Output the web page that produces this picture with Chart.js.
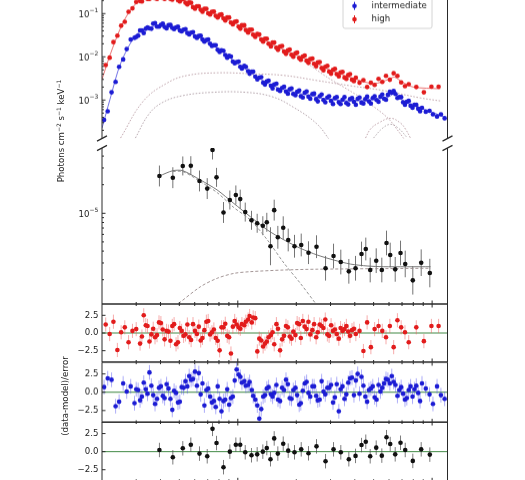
<!DOCTYPE html>
<html>
<head>
<meta charset="utf-8">
<script src="https://cdn.jsdelivr.net/npm/chart.js@4.4.1/dist/chart.umd.min.js"></script>
<style>
  html, body { margin: 0; padding: 0; background: #fff; }
  body { width: 525px; height: 480px; position: relative; overflow: hidden; font-family: "DejaVu Sans", sans-serif; }
  .panel { position: absolute; left: 0; width: 525px; }
  .ylab { position: absolute; white-space: nowrap; font-size: 8.6px; color: #222;
          transform: translate(-50%, -50%) rotate(-90deg); }
  .ylab sup { font-size: 6px; vertical-align: 3px; line-height: 0; }
</style>
</head>
<body>
<div class="panel" style="top:-32px;height:179.5px"><canvas id="p1"></canvas></div>
<div class="panel" style="top:138px;height:176px"><canvas id="p2"></canvas></div>
<div class="panel" style="top:294.3px;height:78px"><canvas id="p3"></canvas></div>
<div class="panel" style="top:352.3px;height:79.4px"><canvas id="p4"></canvas></div>
<div class="panel" style="top:411.7px;height:79.3px"><canvas id="p5"></canvas></div>
<div class="ylab" style="left:61px;top:131px">Photons cm<sup>−2</sup> s<sup>−1</sup> keV<sup>−1</sup></div>
<div class="ylab" style="left:65px;top:396px">(data-model)/error</div>
<script>
// energies in keV, fluxes in photons cm^-2 s^-1 keV^-1
const blueE = [0.205,0.214,0.224,0.235,0.245,0.257,0.268,0.281,0.294,0.307,
  0.321,0.336,0.351,0.367,0.384,0.402,0.420,0.440,0.460,0.481,
  0.503,0.526,0.550,0.575,0.602,0.630,0.658,0.689,0.720,0.753,
  0.788,0.824,0.862,0.902,0.943,0.986,1.03,1.08,1.13,1.18,
  1.23,1.29,1.35,1.41,1.48,1.54,1.61,1.69,1.77,1.85,
  1.93,2.02,2.11,2.21,2.31,2.42,2.53,2.64,2.76,2.89,
  3.02,3.16,3.31,3.46,3.62,3.78,3.96,4.14,4.33,4.53,
  4.73,4.95,5.18,5.42,5.66,5.92,6.20,6.48,6.78,7.09,
  7.41,7.75,8.11,8.48,8.87,9.28,9.70,10.1,10.6,11.1,11.6];
const blueF = [3.47e-4,5.50e-4,1.51e-3,2.63e-3,5.89e-3,8.71e-3,1.51e-2,2.51e-2,2.75e-2,3.09e-2,
  4.07e-2,4.47e-2,4.57e-2,5.89e-2,5.01e-2,5.50e-2,4.90e-2,5.37e-2,4.68e-2,4.79e-2,
  4.07e-2,4.27e-2,3.55e-2,3.63e-2,2.95e-2,3.02e-2,2.51e-2,2.45e-2,2.00e-2,1.86e-2,
  1.45e-2,1.41e-2,1.10e-2,1.05e-2,7.76e-3,7.59e-3,5.89e-3,6.17e-3,4.68e-3,4.57e-3,
  3.47e-3,3.31e-3,2.51e-3,2.69e-3,2.14e-3,2.29e-3,1.74e-3,1.91e-3,1.58e-3,1.78e-3,
  1.38e-3,1.55e-3,1.23e-3,1.48e-3,1.20e-3,1.38e-3,1.05e-3,1.23e-3,1.00e-3,1.15e-3,
  9.55e-4,1.12e-3,8.91e-4,1.02e-3,8.51e-4,1.05e-3,9.12e-4,1.07e-3,8.71e-4,1.05e-3,
  9.33e-4,1.12e-3,1.00e-3,1.20e-3,1.07e-3,1.32e-3,1.48e-3,1.38e-3,1.17e-3,8.91e-4,
  9.12e-4,7.41e-4,7.76e-4,6.31e-4,6.61e-4,5.37e-4,5.62e-4,4.68e-4,4.17e-4,4.68e-4,3.80e-4];
const blueRes = [0.7,1.9,1.7,-1.9,-1.3,1.2,0.1,0.8,-1.5,0.3,
  -0.6,0.4,2.7,-0.4,-0.9,0.8,-0.8,0.5,-2.4,-0.1,
  -1.3,0.6,0.8,1.7,2.8,2.6,1.2,0.3,-0.6,-1.2,
  0.8,-2.6,-1.0,-1.7,-0.6,3.1,2.1,1.5,1.0,0.3,
  -1.0,-3.6,-0.6,0.5,-0.3,-0.1,-1.0,0.6,1.7,-0.8,
  0.3,-0.4,-1.5,1.2,-0.1,0.8,-0.5,-1.0,0.1,0.6,
  1.0,-0.7,-2.6,0.8,-0.3,1.9,-0.4,2.5,2.1,-0.6,
  0.3,0.8,-1.0,0.1,1.2,1.7,2.2,1.0,0.3,-0.2,
  -0.8,0.8,0.4,-0.1,1.2,0.5,-0.3,-1.6,0.8,-0.4,-0.9];
// interleaved bins of the intermediate spectrum
const blueE2 = [0.300,0.314,0.328,0.343,0.359,0.375,0.393,0.411,0.430,0.450,
  0.470,0.492,0.514,0.538,0.562,0.588,0.616,0.644,0.673,0.704,
  0.736,0.770,0.806,0.843,0.882,0.922,0.964,1.01,1.05,1.10,
  1.15,1.20,1.26,1.32,1.38,1.44,1.51,1.58,1.65,1.73,
  1.81,1.89,1.98,2.07,2.16,2.26,2.36,2.47,2.58,2.70,
  2.82,2.95,3.09,3.23,3.38,3.54,3.70,3.87,4.05,4.23,
  4.43,4.63,4.84,5.06,5.30,5.54,5.79,6.06,6.34,6.63,
  6.93,7.25,7.58,7.93,8.29,8.67];
const blueF2 = [2.88e-2,4.07e-2,3.55e-2,4.79e-2,4.47e-2,6.03e-2,5.01e-2,5.89e-2,4.57e-2,5.50e-2,
  4.37e-2,5.01e-2,3.89e-2,4.37e-2,3.31e-2,3.72e-2,2.75e-2,3.09e-2,2.24e-2,2.51e-2,
  1.78e-2,1.86e-2,1.29e-2,1.38e-2,9.55e-3,1.02e-2,7.08e-3,7.76e-3,5.37e-3,5.89e-3,
  4.07e-3,4.57e-3,3.02e-3,3.39e-3,2.29e-3,2.82e-3,1.86e-3,2.40e-3,1.62e-3,2.04e-3,
  1.41e-3,1.86e-3,1.29e-3,1.66e-3,1.15e-3,1.58e-3,1.07e-3,1.41e-3,9.33e-4,1.35e-3,
  8.91e-4,1.23e-3,8.13e-4,1.17e-3,8.13e-4,1.17e-3,7.94e-4,1.12e-3,7.76e-4,1.15e-3,
  8.32e-4,1.20e-3,8.32e-4,1.23e-3,9.12e-4,1.35e-3,1.02e-3,1.55e-3,1.62e-3,1.12e-3,
  1.17e-3,7.76e-4,9.55e-4,6.61e-4,7.76e-4,5.50e-4];
const blueRes2 = [0.4,-1.1,1.3,-0.2,0.9,-1.6,0.6,-0.5,1.1,-0.9,
  0.2,-1.4,0.7,1.5,2.2,1.8,0.9,-0.3,-1.8,0.5,
  -1.4,-2.0,-0.9,-1.2,0.4,-0.8,1.6,2.4,1.3,0.9,
  1.4,-0.5,-1.8,-2.3,-0.4,0.7,-0.6,1.0,-1.2,0.3,
  1.1,-0.9,0.6,-1.7,0.2,1.4,-0.6,0.8,-1.1,1.5,
  -0.3,0.6,-1.4,1.1,0.4,-0.9,1.3,2.0,1.6,-0.2,
  0.9,-1.3,0.5,-0.7,1.0,0.6,1.8,1.2,1.4,-0.5,
  0.7,-1.0,0.3,-0.6,0.9,-1.2];

const redE = [0.209,0.219,0.229,0.240,0.251,0.262,0.274,0.287,0.300,0.314,
  0.328,0.343,0.359,0.375,0.393,0.411,0.430,0.450,0.470,0.492,
  0.514,0.538,0.562,0.588,0.616,0.644,0.673,0.704,0.736,0.770,
  0.806,0.843,0.882,0.922,0.964,1.01,1.05,1.10,1.15,1.20,
  1.26,1.32,1.38,1.44,1.51,1.58,1.65,1.73,1.81,1.89,
  1.98,2.07,2.16,2.26,2.36,2.47,2.58,2.70,2.82,2.95,
  3.09,3.23,3.38,3.54,3.70,3.87,4.05,4.23,4.43,4.63,
  4.84,5.06,5.30,5.54,5.79,6.06,6.34,6.63,6.93,7.25,
  7.58,8.29,9.07,9.92,10.8];
const redF = [6.46e-3,9.55e-3,2.19e-2,3.09e-2,5.25e-2,6.46e-2,1.10e-1,1.32e-1,1.86e-1,1.95e-1,
  2.34e-1,2.19e-1,2.57e-1,2.29e-1,2.57e-1,2.34e-1,2.57e-1,2.19e-1,2.40e-1,2.04e-1,
  2.14e-1,1.78e-1,1.82e-1,1.41e-1,1.48e-1,1.23e-1,1.29e-1,1.02e-1,1.10e-1,8.91e-2,
  9.33e-2,7.76e-2,8.13e-2,6.17e-2,6.46e-2,5.01e-2,5.37e-2,4.17e-2,4.27e-2,3.24e-2,
  3.39e-2,2.51e-2,2.63e-2,2.00e-2,2.14e-2,1.62e-2,1.74e-2,1.32e-2,1.41e-2,1.12e-2,
  1.20e-2,9.33e-3,1.02e-2,8.13e-3,8.91e-3,6.92e-3,7.41e-3,5.50e-3,5.89e-3,4.57e-3,
  5.01e-3,3.98e-3,4.37e-3,3.31e-3,3.80e-3,2.95e-3,3.31e-3,2.51e-3,2.88e-3,2.00e-3,
  2.51e-3,2.24e-3,3.09e-3,2.63e-3,3.63e-3,2.95e-3,4.17e-3,3.63e-3,2.57e-3,2.09e-3,
  2.34e-3,2.00e-3,1.51e-3,2.04e-3,2.04e-3];
const redRes = [1.2,-0.15,1.6,-2.4,0.1,0.8,-1.3,0.3,0.55,-1.5,
  2.5,1.0,-0.2,-0.6,1.5,0.5,0.3,-1.1,1.25,-1.3,
  0.3,-0.2,-0.6,1.25,-0.15,-1.05,0.4,1.7,0.1,-0.7,
  -2.45,0.8,-0.4,-2.9,1.7,0.8,1.25,1.6,2.4,2.2,
  -2.6,-1.05,-1.5,-0.6,0.1,1.25,-2.45,-0.4,0.8,-0.8,
  -0.3,1.25,1.7,0.55,-0.2,1.25,0.1,1.0,1.9,-0.4,
  0.3,-0.15,0.7,0.55,0.2,0.4,-0.15,0.3,-2.55,1.5,
  -2.0,0.55,1.0,0.3,-0.6,1.0,-2.0,1.8,0.8,0.1,
  -1.3,0.8,-1.15,1.0,1.0];
// interleaved bins of the high spectrum
const redE2 = [0.321,0.336,0.351,0.367,0.384,0.402,0.420,0.440,0.460,0.481,
  0.503,0.526,0.550,0.575,0.602,0.630,0.658,0.689,0.720,0.753,
  0.788,0.824,0.862,0.902,0.943,0.986,1.03,1.08,1.13,1.18,
  1.23,1.29,1.35,1.41,1.48,1.54,1.61,1.69,1.77,1.85,
  1.93,2.02,2.11,2.21,2.31,2.42,2.53,2.64,2.76,2.89,
  3.02,3.16,3.31,3.46,3.62,3.78,3.96];
const redF2 = [1.91e-1,2.57e-1,2.19e-1,2.69e-1,2.19e-1,2.63e-1,2.19e-1,2.63e-1,2.09e-1,2.45e-1,
  1.91e-1,2.19e-1,1.62e-1,1.78e-1,1.29e-1,1.48e-1,1.10e-1,1.29e-1,9.55e-2,1.12e-1,
  8.13e-2,9.55e-2,6.92e-2,8.13e-2,5.62e-2,6.61e-2,4.47e-2,5.37e-2,3.63e-2,4.27e-2,
  2.88e-2,3.31e-2,2.24e-2,2.63e-2,1.74e-2,2.14e-2,1.45e-2,1.78e-2,1.17e-2,1.48e-2,
  1.00e-2,1.26e-2,8.51e-3,1.07e-2,7.24e-3,9.12e-3,6.03e-3,7.59e-3,4.90e-3,6.17e-3,
  4.07e-3,5.25e-3,3.55e-3,4.47e-3,3.09e-3,3.98e-3,2.75e-3];
const redRes2 = [-0.5,1.1,-1.2,0.6,-0.3,1.4,-0.9,0.2,1.0,-1.6,
  0.7,-0.4,1.2,-1.0,0.3,0.9,-0.7,1.6,-0.2,0.5,
  -1.1,0.8,1.3,-0.6,0.9,1.2,0.6,1.1,1.9,1.5,
  2.1,-0.8,-1.9,-1.2,-0.3,-1.6,0.6,-0.9,1.0,-0.5,
  0.2,1.4,-0.7,0.9,1.6,0.4,-0.6,1.2,0.7,-0.2,
  1.1,0.5,-0.8,0.3,1.0,-0.4,0.6];

const blackE = [0.395,0.463,0.521,0.573,0.635,0.696,0.741,0.777,0.844,0.910,
  0.977,1.029,1.092,1.176,1.258,1.345,1.410,1.473,1.539,1.607,
  1.713,1.817,1.958,2.120,2.311,2.541,2.828,3.109,3.389,3.727,
  4.035,4.332,4.557,4.801,5.156,5.510,5.825,6.086,6.457,6.877,
  7.271,7.954,8.786,9.732];
const blackF = [2.47e-5,2.37e-5,3.15e-5,3.17e-5,2.19e-5,1.82e-5,4.64e-5,2.39e-5,1.02e-5,1.38e-5,
  1.56e-5,1.41e-5,1.03e-5,8.44e-6,7.85e-6,7.40e-6,8.04e-6,4.50e-6,1.08e-5,5.59e-6,
  7.05e-6,5.24e-6,4.50e-6,4.64e-6,3.85e-6,4.45e-6,2.64e-6,3.55e-6,3.07e-6,2.45e-6,
  2.64e-6,3.73e-6,4.21e-6,2.53e-6,3.17e-6,2.53e-6,4.87e-6,3.64e-6,2.57e-6,3.82e-6,
  2.93e-6,1.97e-6,3.02e-6,2.35e-6];
// half error bar, in decades
const blackErr = [0.11,0.11,0.1,0.1,0.11,0.11,0.1,0.1,0.11,0.1,
  0.1,0.1,0.1,0.1,0.1,0.1,0.1,0.2,0.11,0.12,
  0.12,0.12,0.12,0.12,0.12,0.12,0.13,0.13,0.13,0.13,
  0.13,0.13,0.12,0.13,0.13,0.13,0.13,0.13,0.13,0.13,
  0.14,0.15,0.14,0.15];
const blackRes = [0.23,-0.78,0.46,0.96,-0.27,-0.64,3.15,1.19,-2.15,0,
  0.96,0.96,-0.09,-0.5,-0.37,0,0.5,-1.05,1.83,-0.27,
  1.1,0.14,-0.09,0.32,-0.23,0.73,-1.32,0.32,-0.09,-1.05,
  -0.59,0.91,1.37,-0.64,0.55,-0.55,2.0,1.05,-0.37,1.23,
  0.23,-1.28,0.32,-0.41];

// fitted models and their components
const blueModelE = [0.2,0.22,0.25,0.3,0.35,0.4,0.5,0.6,0.8,1.0,1.3,1.6,2.0,2.5,3.0,4.0,5.0,6.0,6.4,7.0,8.0,10,11.6];
const blueModelF = [2.24e-4,1.05e-3,7.24e-3,3.24e-2,4.79e-2,5.25e-2,4.27e-2,3.16e-2,1.48e-2,6.92e-3,3.09e-3,1.95e-3,1.48e-3,1.20e-3,1.02e-3,9.55e-4,1.02e-3,1.20e-3,1.41e-3,1.00e-3,7.41e-4,5.25e-4,3.98e-4];
const redModelE = [0.2,0.22,0.25,0.28,0.32,0.4,0.5,0.6,0.8,1.0,1.3,1.6,2.0,2.5,3.0,4.0,5.0,6.0,6.4,7.0,8.0,11];
const redModelF = [3.02e-3,1.10e-2,4.79e-2,1.20e-1,2.14e-1,2.45e-1,2.14e-1,1.45e-1,8.91e-2,5.50e-2,2.82e-2,1.70e-2,1.10e-2,7.24e-3,4.90e-3,3.09e-3,2.40e-3,3.02e-3,3.39e-3,2.63e-3,2.00e-3,1.82e-3];
const compAE = [0.249,0.327,0.435,0.551,0.787,1.16,1.72,2.57,3.80,5.62,8.71,11.0];
const compAF = [1.32e-4,9.55e-4,2.51e-3,3.72e-3,4.27e-3,4.07e-3,3.72e-3,2.82e-3,2.14e-3,1.66e-3,1.12e-3,9.55e-4];
const compBE = [0.297,0.348,0.408,0.518,0.738,1.10,1.50,1.94,2.55,3.0];
const compBF = [1.32e-4,4.68e-4,8.71e-4,1.26e-3,1.51e-3,1.51e-3,1.20e-3,6.76e-4,2.82e-4,1.12e-4];
const compCE = [1.47,2.10,2.88,4.28,5.87,6.89,7.30];
const compCF = [1.91e-2,8.91e-3,3.39e-3,1.15e-3,3.98e-4,1.62e-4,1.12e-4];
const lineAE = [4.54,4.82,5.30,6.11,6.87,7.29,7.74];
const lineAF = [1.32e-4,2.14e-4,2.95e-4,3.80e-4,2.95e-4,2.14e-4,1.32e-4];
const lineBE = [4.99,5.56,6.11,6.71,7.47];
const lineBF = [1.32e-4,2.24e-4,2.75e-4,2.24e-4,1.32e-4];
const blackModelE = [0.395,0.463,0.521,0.643,0.783,0.954,1.16,1.42,1.73,2.10,2.56,3.12,3.80,4.63,5.64,9.82];
const blackModelF = [2.47e-5,2.81e-5,2.81e-5,2.24e-5,1.76e-5,1.27e-5,9.21e-6,6.67e-6,5.24e-6,4.28e-6,3.64e-6,3.22e-6,2.92e-6,2.79e-6,2.74e-6,2.74e-6];
const blackComp1E = [0.463,0.521,0.643,0.783,0.954,1.16,1.42,1.73,2.10,2.51];
const blackComp1F = [2.75e-5,2.75e-5,2.15e-5,1.65e-5,1.15e-5,8.5e-6,5.24e-6,2.98e-6,1.83e-6,1.13e-6];
const blackComp2E = [0.497,0.643,0.783,0.954,1.16,1.73,2.56,9.82];
const blackComp2F = [1.13e-6,1.69e-6,2.07e-6,2.33e-6,2.43e-6,2.53e-6,2.58e-6,2.64e-6];

const legendLabels = ['low', 'intermediate', 'high'];

const RED = 'rgb(226,28,28)', BLUE = 'rgb(28,28,212)', BLACK = '#111';
const FONT = '"DejaVu Sans", sans-serif';

function pts(xs, ys) { return xs.map((x, i) => ({ x: x, y: ys[i] })); }

function pointSet(xs, ys, color, err, errColor, errLog) {
  return { data: pts(xs, ys), showLine: false, pointRadius: 2.3, pointBorderWidth: 0,
           pointBackgroundColor: color, err: err, errColor: errColor, errLog: errLog };
}
function lineSet(xs, ys, color, width, dash, tension) {
  return { data: pts(xs, ys), showLine: true, pointRadius: 0, borderColor: color,
           borderWidth: width, borderDash: dash || [], tension: tension || 0, fill: false };
}

function powLabel(ctx, exp, xr, y) {
  ctx.font = '6px ' + FONT;
  const we = ctx.measureText(exp).width;
  ctx.font = '8.6px ' + FONT;
  const wb = ctx.measureText('10').width;
  ctx.textAlign = 'left';
  ctx.textBaseline = 'middle';
  ctx.fillText('10', xr - we - wb, y + 1);
  ctx.font = '6px ' + FONT;
  ctx.fillText(exp, xr - we, y - 3);
}

const xMajor = [1, 10];
const xMinor = [0.3, 0.4, 0.5, 0.6, 0.7, 0.8, 0.9, 2, 3, 4, 5, 6, 7, 8, 9];

function makeDeco(cfg) {
  return {
    id: 'deco',
    beforeDatasetsDraw(chart) {
      const ctx = chart.ctx, a = chart.chartArea, xs = chart.scales.x, ys = chart.scales.y;
      ctx.save();
      ctx.beginPath();
      ctx.rect(a.left, a.top, a.right - a.left, a.bottom - a.top);
      ctx.clip();
      if (cfg.zeroLine) {
        const y0 = ys.getPixelForValue(0);
        ctx.strokeStyle = '#2e7d32';
        ctx.lineWidth = 0.9;
        ctx.beginPath(); ctx.moveTo(a.left, y0); ctx.lineTo(a.right, y0); ctx.stroke();
      }
      chart.data.datasets.forEach(ds => {
        if (ds.err === undefined) return;
        ctx.strokeStyle = ds.errColor;
        ctx.lineWidth = 1;
        ds.data.forEach((p, j) => {
          const e = Array.isArray(ds.err) ? ds.err[j] : ds.err;
          const lo = ds.errLog ? p.y / Math.pow(10, e) : p.y - e;
          const hi = ds.errLog ? p.y * Math.pow(10, e) : p.y + e;
          const px = xs.getPixelForValue(p.x);
          ctx.beginPath();
          ctx.moveTo(px, ys.getPixelForValue(lo));
          ctx.lineTo(px, ys.getPixelForValue(hi));
          ctx.stroke();
        });
      });
      ctx.restore();
    },
    afterDraw(chart) {
      const ctx = chart.ctx, a = chart.chartArea, xs = chart.scales.x, ys = chart.scales.y;
      ctx.save();
      ctx.strokeStyle = '#2a2a2a';
      ctx.lineWidth = 1;
      ctx.beginPath();
      ctx.moveTo(a.left, a.top); ctx.lineTo(a.left, a.bottom);
      ctx.moveTo(a.right, a.top); ctx.lineTo(a.right, a.bottom);
      if (cfg.topSpine) { ctx.moveTo(a.left, a.top); ctx.lineTo(a.right, a.top); }
      if (cfg.bottomSpine) { ctx.moveTo(a.left, a.bottom); ctx.lineTo(a.right, a.bottom); }
      // x ticks, pointing inwards
      const xt = (v, len) => {
        const px = xs.getPixelForValue(v);
        if (cfg.xTicksBottom) { ctx.moveTo(px, a.bottom); ctx.lineTo(px, a.bottom - len); }
        if (cfg.xTicksTop) { ctx.moveTo(px, a.top); ctx.lineTo(px, a.top + len); }
      };
      xMajor.forEach(v => xt(v, 3.5));
      xMinor.forEach(v => xt(v, 2));
      // y ticks
      (cfg.yMajor || []).forEach(v => {
        const py = ys.getPixelForValue(v);
        ctx.moveTo(a.left, py); ctx.lineTo(a.left + 3.5, py);
      });
      (cfg.yMinor || []).forEach(v => {
        const py = ys.getPixelForValue(v);
        ctx.moveTo(a.left, py); ctx.lineTo(a.left + 2, py);
      });
      ctx.stroke();
      // broken axis marks
      ctx.lineWidth = 1.2;
      ctx.beginPath();
      const brk = (x, y) => { ctx.moveTo(x - 5, y + 2.6); ctx.lineTo(x + 5, y - 2.6); };
      if (cfg.breakBottom) { brk(a.left, a.bottom); brk(a.right, a.bottom); }
      if (cfg.breakTop) { brk(a.left, a.top); brk(a.right, a.top); }
      ctx.stroke();
      // tick labels
      ctx.fillStyle = '#222';
      const xr = a.left - 3.6;
      (cfg.yLabels || []).forEach(l => {
        const py = ys.getPixelForValue(l.v);
        if (l.exp) {
          powLabel(ctx, l.exp, xr, py);
        } else {
          ctx.font = '8.6px ' + FONT;
          ctx.textAlign = 'right';
          ctx.textBaseline = 'middle';
          ctx.fillText(l.text, xr, py);
        }
      });
      // legend
      if (cfg.legend) {
        const bx = a.right - 104.5, bw = 89, bottom = a.top + 50, rowH = 13.3;
        const bh = cfg.legend.length * rowH + 10;
        ctx.fillStyle = 'rgba(255,255,255,0.85)';
        ctx.strokeStyle = '#d4d4d4';
        ctx.lineWidth = 1;
        ctx.beginPath();
        if (ctx.roundRect) ctx.roundRect(bx, bottom - bh, bw, bh, 2);
        else ctx.rect(bx, bottom - bh, bw, bh);
        ctx.fill(); ctx.stroke();
        cfg.legend.forEach((r, i) => {
          const cy = bottom - 9 - (cfg.legend.length - 1 - i) * rowH;
          const mx = bx + 11.5;
          ctx.strokeStyle = r.color;
          ctx.lineWidth = 1;
          ctx.beginPath(); ctx.moveTo(mx, cy - 4); ctx.lineTo(mx, cy + 4); ctx.stroke();
          ctx.fillStyle = r.color;
          ctx.beginPath(); ctx.arc(mx, cy, 2.3, 0, Math.PI * 2); ctx.fill();
          ctx.fillStyle = '#222';
          ctx.font = '8.6px ' + FONT;
          ctx.textAlign = 'left';
          ctx.textBaseline = 'middle';
          ctx.fillText(r.label, bx + 28.5, cy);
        });
      }
      ctx.restore();
    }
  };
}

function makePanel(id, yScale, datasets, deco) {
  return new Chart(document.getElementById(id), {
    type: 'scatter',
    data: { datasets: datasets },
    options: {
      responsive: true,
      maintainAspectRatio: false,
      animation: false,
      events: [],
      layout: { padding: { left: 102, right: 77.5, top: 10, bottom: 10 } },
      plugins: { legend: { display: false }, tooltip: { enabled: false } },
      scales: {
        x: { type: 'logarithmic', min: 0.2, max: 12, display: false },
        y: Object.assign({ display: false }, yScale)
      }
    },
    plugins: [makeDeco(deco)]
  });
}

function decadeMinors(lo, hi) {
  const out = [];
  for (let d = -7; d <= 1; d++) {
    for (let m = 2; m <= 9; m++) {
      const v = m * Math.pow(10, d);
      if (v > lo && v < hi) out.push(v);
    }
  }
  return out;
}

const redErrCol = 'rgba(226,28,28,0.55)', blueErrCol = 'rgba(28,28,212,0.55)';

// top panel: intermediate and high states
const p1Min = 1.294e-4, p1Max = 0.662;
makePanel('p1', { type: 'logarithmic', min: p1Min, max: p1Max }, [
  pointSet(redE, redF, RED, 0.035, redErrCol, true),
  pointSet(redE2, redF2, RED, 0.035, redErrCol, true),
  pointSet(blueE, blueF, BLUE, 0.03, blueErrCol, true),
  pointSet(blueE2, blueF2, BLUE, 0.03, blueErrCol, true),
  lineSet(redModelE, redModelF, 'rgba(226,60,60,0.9)', 0.8, [], 0.3),
  lineSet(blueModelE, blueModelF, 'rgba(60,60,220,0.9)', 0.8, [], 0.3),
  lineSet(compAE, compAF, 'rgba(175,140,150,0.85)', 0.9, [1.6, 1.6], 0.4),
  lineSet(compBE, compBF, 'rgba(160,140,150,0.85)', 0.9, [1.6, 1.6], 0.4),
  lineSet(compCE, compCF, 'rgba(175,140,150,0.85)', 0.9, [1.6, 1.6], 0.3),
  lineSet(lineAE, lineAF, 'rgba(175,140,150,0.85)', 0.9, [1.6, 1.6], 0.4),
  lineSet(lineBE, lineBF, 'rgba(160,150,155,0.85)', 0.9, [1.6, 1.6], 0.4)
], {
  breakBottom: true,
  yMajor: [1e-3, 1e-2, 1e-1],
  yMinor: decadeMinors(p1Min, p1Max),
  yLabels: [{ v: 1e-1, exp: '−1' }, { v: 1e-2, exp: '−2' }, { v: 1e-3, exp: '−3' }],
  legend: [
    { label: legendLabels[0], color: BLACK },
    { label: legendLabels[1], color: BLUE },
    { label: legendLabels[2], color: RED }
  ]
});

// second panel: low state
const p2Min = 1.110e-6, p2Max = 4.868e-5;
makePanel('p2', { type: 'logarithmic', min: p2Min, max: p2Max }, [
  pointSet(blackE, blackF, BLACK, blackErr, 'rgba(70,70,70,0.75)', true),
  lineSet(blackModelE, blackModelF, '#6a6a6a', 0.9, [], 0.25),
  lineSet(blackComp1E, blackComp1F, '#8a8a8a', 0.9, [3, 2], 0.3),
  lineSet(blackComp2E, blackComp2F, '#9a8a8a', 0.9, [3, 2], 0.3)
], {
  breakTop: true,
  bottomSpine: true,
  xTicksBottom: true,
  yMajor: [1e-5],
  yMinor: decadeMinors(p2Min, p2Max),
  yLabels: [{ v: 1e-5, exp: '−5' }]
});

// residual panels
const resScale = { type: 'linear', min: -4.1, max: 4.1 };
const resDeco = {
  topSpine: true, bottomSpine: true, xTicksTop: true, xTicksBottom: true, zeroLine: true,
  yMajor: [-2.5, 0, 2.5],
  yLabels: [{ v: 2.5, text: '2.5' }, { v: 0, text: '0.0' }, { v: -2.5, text: '−2.5' }]
};
const redResCol = 'rgba(240,90,90,0.5)', blueResCol = 'rgba(70,70,240,0.45)';
makePanel('p3', resScale, [
  pointSet(redE, redRes, RED, 1, redResCol, false),
  pointSet(redE2, redRes2, RED, 1, redResCol, false)
], resDeco);
makePanel('p4', resScale, [
  pointSet(blueE, blueRes, BLUE, 1, blueResCol, false),
  pointSet(blueE2, blueRes2, BLUE, 1, blueResCol, false)
], resDeco);
makePanel('p5', resScale, [pointSet(blackE, blackRes, BLACK, 1, 'rgba(80,80,80,0.75)', false)], resDeco);
</script>
</body>
</html>
